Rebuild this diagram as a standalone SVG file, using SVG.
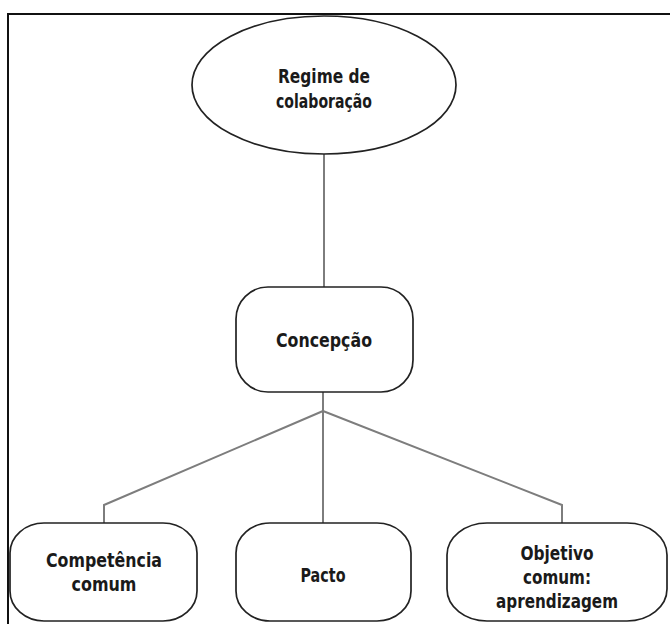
<svg xmlns="http://www.w3.org/2000/svg" width="670" height="624" viewBox="0 0 670 624">
  <style>
    .frame { stroke: #111; stroke-width: 2; fill: none; }
    .node { fill: #fff; stroke: #222; stroke-width: 1.7; }
    .link { stroke: #7d7d7d; stroke-width: 2; fill: none; }
    .label { font-family: "DejaVu Sans", "Liberation Sans", sans-serif; font-weight: bold; font-size: 19px; fill: #1a1a1a; text-anchor: middle; }
  </style>
  <rect width="670" height="624" fill="#fff"/>
  <!-- outer frame: top and left edges only -->
  <path class="frame" d="M8 624 V14 H670"/>

  <g id="connectors">
    <line class="link" x1="324" y1="154" x2="324" y2="287"/>
    <line class="link" x1="323" y1="392" x2="323" y2="411"/>
    <polyline class="link" points="323,411 104,505 104,523"/>
    <line class="link" x1="323" y1="411" x2="323" y2="523"/>
    <polyline class="link" points="323,411 562,505 562,523"/>
  </g>

  <g id="regime">
    <ellipse class="node" cx="324" cy="85" rx="132" ry="69"/>
    <text class="label" x="324" y="83" textLength="92" lengthAdjust="spacingAndGlyphs">Regime de</text>
    <text class="label" x="324" y="108" textLength="96" lengthAdjust="spacingAndGlyphs">colaboração</text>
  </g>

  <g id="concepcao">
    <rect class="node" x="236" y="287" width="177" height="105" rx="32" ry="32"/>
    <text class="label" x="324" y="347" textLength="96" lengthAdjust="spacingAndGlyphs">Concepção</text>
  </g>

  <g id="competencia">
    <rect class="node" x="10" y="523" width="187" height="98" rx="34" ry="30"/>
    <text class="label" x="104" y="567" textLength="116" lengthAdjust="spacingAndGlyphs">Competência</text>
    <text class="label" x="104" y="591" textLength="65" lengthAdjust="spacingAndGlyphs">comum</text>
  </g>

  <g id="pacto">
    <rect class="node" x="236" y="523" width="175" height="98" rx="34" ry="30"/>
    <text class="label" x="323" y="582" textLength="45" lengthAdjust="spacingAndGlyphs">Pacto</text>
  </g>

  <g id="objetivo">
    <rect class="node" x="447" y="523" width="220" height="98" rx="40" ry="32"/>
    <text class="label" x="557" y="560" textLength="73" lengthAdjust="spacingAndGlyphs">Objetivo</text>
    <text class="label" x="557" y="584" textLength="68" lengthAdjust="spacingAndGlyphs">comum:</text>
    <text class="label" x="557" y="608" textLength="122" lengthAdjust="spacingAndGlyphs">aprendizagem</text>
  </g>
</svg>
